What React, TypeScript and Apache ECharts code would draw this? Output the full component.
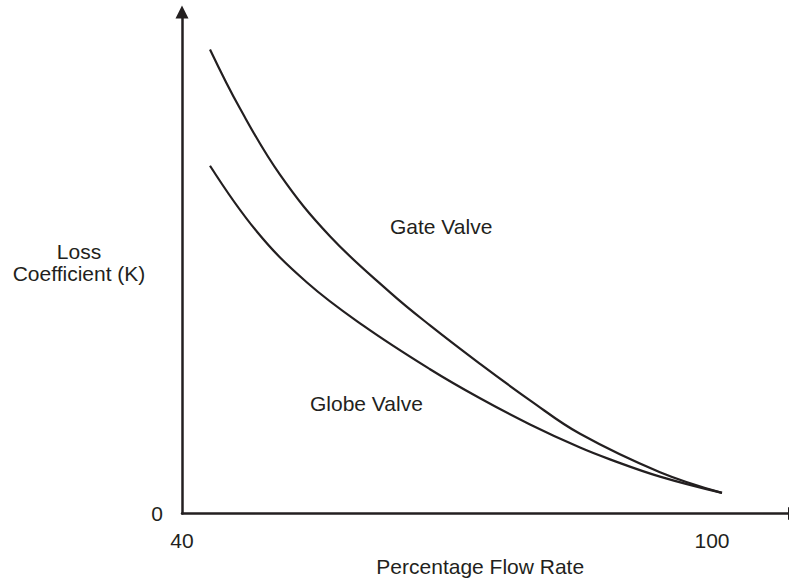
import React, { useEffect, useRef } from "react";
import * as echarts from "echarts";

const gateX = [43.17, 46.57, 51.09, 56.75, 63.55, 68.08, 73.74, 79.4, 85.06, 94.11, 101.13];
const gateY = [92.53, 80.75, 67.58, 55.3, 44.11, 37.52, 29.86, 22.59, 15.91, 8.25, 4.13];
const globeX = [43.17, 48.49, 54.15, 60.49, 68.08, 73.74, 79.4, 85.06, 88.45, 94.11, 101.13];
const globeY = [69.35, 56.19, 46.07, 37.52, 28.78, 22.99, 17.78, 13.16, 10.81, 7.37, 4.13];
const xTickValues = [40, 100];
const yTickValues = [0];
const seriesNames = ["Gate Valve", "Globe Valve"];
const xTitle = "Percentage Flow Rate";
const yTitle = "Loss\nCoefficient (K)";

const INK = "#231f20";
const FONT = "'Liberation Sans', Arial, Helvetica, sans-serif";

export default function App() {
  const ref = useRef<HTMLDivElement>(null);
  useEffect(() => {
    if (!ref.current) return;
    const chart = echarts.init(ref.current, null, { renderer: "svg" });
    const gate = gateX.map((x, i) => [x, gateY[i]]);
    const globe = globeX.map((x, i) => [x, globeY[i]]);
    chart.setOption({
      animation: false,
      backgroundColor: "#ffffff",
      textStyle: { fontFamily: FONT },
      grid: { left: 182, right: 5.5, top: 12, bottom: 61, containLabel: false },
      xAxis: {
        type: "value",
        min: 40,
        max: 109.34,
        splitLine: { show: false },
        axisTick: { show: false },
        axisLine: {
          show: true,
          onZero: false,
          symbol: ["none", "triangle"],
          symbolSize: [13, 13],
          lineStyle: { color: INK, width: 2.5 },
        },
        axisLabel: {
          customValues: xTickValues,
          color: INK,
          fontSize: 21,
          fontFamily: FONT,
          margin: 27,
          verticalAlign: "middle",
        },
        name: xTitle,
        nameLocation: "middle",
        nameGap: 49,
        nameTextStyle: {
          color: INK,
          fontSize: 21,
          fontFamily: FONT,
          align: "center",
          verticalAlign: "middle",
          padding: [0, 16, 0, 0],
        },
      },
      yAxis: {
        type: "value",
        min: 0,
        max: 100,
        splitLine: { show: false },
        axisTick: { show: false },
        axisLine: {
          show: true,
          onZero: false,
          symbol: ["none", "triangle"],
          symbolSize: [13, 13],
          lineStyle: { color: INK, width: 2.5 },
        },
        axisLabel: {
          customValues: yTickValues,
          color: INK,
          fontSize: 21,
          fontFamily: FONT,
          margin: 19,
          verticalAlign: "middle",
          padding: [0, 0, 16, 0],
        },
        name: yTitle,
        nameLocation: "middle",
        nameRotate: 0,
        nameGap: 103,
        nameTextStyle: {
          color: INK,
          fontSize: 21,
          fontFamily: FONT,
          align: "center",
          verticalAlign: "middle",
          lineHeight: 22,
          padding: [0, 0, 10, 0],
        },
      },
      series: [
        {
          name: seriesNames[0],
          type: "line",
          data: gate,
          smooth: 0.4,
          showSymbol: false,
          lineStyle: { color: INK, width: 2.2 },
        },
        {
          name: seriesNames[1],
          type: "line",
          data: globe,
          smooth: 0.4,
          showSymbol: false,
          lineStyle: { color: INK, width: 2.2 },
        },
      ],
      graphic: [
        {
          type: "text",
          left: 390,
          top: 216,
          style: { text: seriesNames[0], fill: INK, fontSize: 21, fontFamily: FONT },
        },
        {
          type: "text",
          left: 310,
          top: 393,
          style: { text: seriesNames[1], fill: INK, fontSize: 21, fontFamily: FONT },
        },
      ],
    });
    return () => chart.dispose();
  }, []);
  return (
    <div
      ref={ref}
      style={{ position: "fixed", left: 0, top: 0, width: 800, height: 582 }}
    />
  );
}
